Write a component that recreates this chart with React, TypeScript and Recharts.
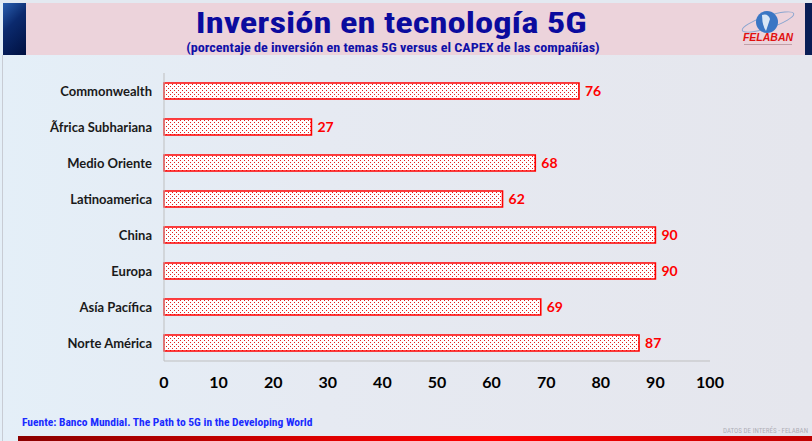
import React from 'react';
import { BarChart, Bar, XAxis, YAxis, LabelList } from 'recharts';

const regions = [
    'Commonwealth',
    'Ãfrica Subhariana',
    'Medio Oriente',
    'Latinoamerica',
    'China',
    'Europa',
    'Asía Pacífica',
    'Norte América',
];
const investment = [76, 27, 68, 62, 90, 90, 69, 87];
const xTicks = [0, 10, 20, 30, 40, 50, 60, 70, 80, 90, 100];

const data = regions.map((region, i) => ({ region, value: investment[i] }));

const narrow = '"Liberation Sans Narrow", "Arial Narrow", "Roboto Condensed", sans-serif';
const labelFont = 'Lato, "Open Sans", sans-serif';

const App: React.FC = () => {
    return (
        <div
            style={{
                position: 'absolute',
                top: 0,
                left: 0,
                width: 812,
                height: 441,
                overflow: 'hidden',
                background: 'linear-gradient(90deg, #e4eff8 0%, #e6eaf2 40%, #e5e6ed 100%)',
                fontFamily: labelFont,
            }}
        >
            {/* header band */}
            <div style={{ position: 'absolute', top: 0, left: 0, width: 812, height: 3, background: '#e3e9f1' }} />
            <div style={{ position: 'absolute', top: 3, left: 26, width: 779, height: 52, background: '#ecd3db' }} />
            <div
                style={{
                    position: 'absolute',
                    top: 3,
                    left: 3,
                    width: 23,
                    height: 52,
                    background: 'linear-gradient(135deg, #2a5fb0 0%, #0b2a6e 40%, #001040 100%)',
                }}
            />
            <div style={{ position: 'absolute', top: 3, left: 805, width: 7, height: 52, background: '#0a1d55' }} />
            <div style={{ position: 'absolute', top: 55, left: 2, width: 1, height: 386, background: '#c8ccd4' }} />

            <div
                style={{
                    position: 'absolute',
                    top: 7,
                    left: 0,
                    width: 782,
                    textAlign: 'center',
                    fontFamily: narrow,
                    fontWeight: 'bold',
                    fontSize: 30,
                    color: '#0b0b9e',
                    lineHeight: '32px',
                    whiteSpace: 'nowrap',
                }}
            >
                <span style={{ display: 'inline-block', transform: 'scaleX(1.22)' }}>Inversión en tecnología 5G</span>
            </div>
            <div
                style={{
                    position: 'absolute',
                    top: 41,
                    left: 0,
                    width: 786,
                    textAlign: 'center',
                    fontFamily: narrow,
                    fontWeight: 'bold',
                    fontSize: 12.5,
                    color: '#1010a8',
                    lineHeight: '14px',
                    whiteSpace: 'nowrap',
                }}
            >
                <span style={{ display: 'inline-block', transform: 'scaleX(1.13)' }}>
                    (porcentaje de inversión en temas 5G versus el CAPEX de las compañías)
                </span>
            </div>

            {/* logo */}
            <svg style={{ position: 'absolute', top: 8, left: 738 }} width={62} height={40}>
                <ellipse cx={30} cy={14} rx={27} ry={6} fill="none" stroke="#8aa6d0" strokeWidth={1} transform="rotate(-18 30 14)" />
                <circle cx={29} cy={14} r={11} fill="#3a76c4" />
                <path d="M24 7 q6 -2 8 4 q-2 6 -4 12 q-4 -6 -4 -16z" fill="#d8e6f6" />
                <text x={30} y={33} textAnchor="middle" fontFamily="Liberation Sans, Arial, sans-serif" fontWeight="bold" fontStyle="italic" fontSize={10.5} fill="#e01010">
                    FELABAN
                </text>
                <rect x={6} y={36} width={48} height={1} fill="#c0a0a8" />
            </svg>

            <BarChart
                width={812}
                height={400}
                data={data}
                layout="vertical"
                barSize={16}
                margin={{ top: 73, right: 102, bottom: 9, left: 14 }}
                style={{ position: 'absolute', top: 0, left: 0 }}
            >
                <defs>
                    <pattern id="dots" width={4} height={4} patternUnits="userSpaceOnUse">
                        <rect width={4} height={4} fill="#ffffff" />
                        <rect x={0} y={0} width={1} height={1} fill="#e02020" />
                        <rect x={2} y={2} width={1} height={1} fill="#e02020" />
                    </pattern>
                </defs>
                <XAxis
                    type="number"
                    domain={[0, 100]}
                    ticks={xTicks}
                    tickLine={false}
                    axisLine={{ stroke: '#bfbfbf' }}
                    tickMargin={10}
                    height={30}
                    tick={{ fill: '#000000', fontSize: 16, fontWeight: 'bold', fontFamily: labelFont }}
                    interval={0}
                />
                <YAxis
                    type="category"
                    dataKey="region"
                    width={150}
                    tickLine={false}
                    axisLine={{ stroke: '#bfbfbf' }}
                    tickMargin={6}
                    tick={{ fill: '#1a1a1a', fontSize: 13, fontWeight: 'bold', fontFamily: labelFont }}
                    interval={0}
                />
                <Bar dataKey="value" fill="url(#dots)" stroke="#ff0000" strokeWidth={1.6} isAnimationActive={false}>
                    <LabelList
                        dataKey="value"
                        position="right"
                        offset={6}
                        fill="#ff0000"
                        fontSize={14}
                        fontWeight="bold"
                        fontFamily={labelFont}
                    />
                </Bar>
            </BarChart>

            <div
                style={{
                    position: 'absolute',
                    top: 415,
                    left: 22,
                    fontFamily: narrow,
                    fontWeight: 'bold',
                    fontSize: 11.5,
                    color: '#1a2bff',
                    whiteSpace: 'nowrap',
                }}
            >
                Fuente: Banco Mundial. The Path to 5G in the Developing World
            </div>
            <div
                style={{
                    position: 'absolute',
                    top: 427,
                    right: 4,
                    fontFamily: narrow,
                    fontSize: 7,
                    color: '#b0b0b8',
                }}
            >
                DATOS DE INTERÉS - FELABAN
            </div>
            <div
                style={{
                    position: 'absolute',
                    top: 436,
                    left: 18,
                    width: 794,
                    height: 5,
                    background: 'linear-gradient(90deg, #8a0000 0%, #e00000 40%, #ff0000 60%, #c00000 100%)',
                }}
            />
        </div>
    );
};

export default App;
